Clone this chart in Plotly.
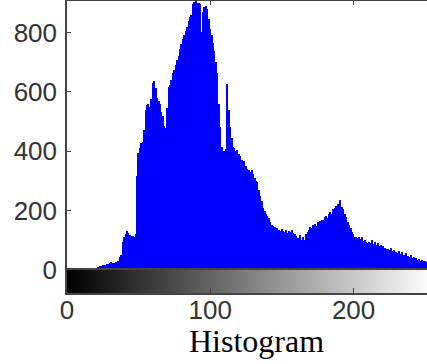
import plotly.graph_objects as go

# Histogram counts for gray levels 0..255
levels = list(range(256))
counts = [
    0, 0, 0, 0, 0, 0, 0, 0, 0, 0,
    0, 1, 1, 2, 2, 3, 4, 5, 6, 5,
    7, 8, 10, 12, 15, 16, 18, 17, 19, 21,
    24, 26, 23, 25, 28, 27, 30, 45, 52, 96,
    110, 122, 130, 126, 118, 114, 116, 112, 120, 318,
    395, 410, 428, 432, 470, 540, 557, 560, 548, 575,
    630, 638, 612, 580, 570, 560, 532, 520, 485, 478,
    545, 618, 622, 640, 665, 672, 690, 708, 722, 745,
    762, 778, 790, 805, 818, 838, 852, 860, 896, 902,
    905, 898, 900, 895, 800, 870, 885, 890, 878, 845,
    812, 790, 765, 738, 700, 665, 560, 480, 415, 390,
    400, 408, 625, 540, 480, 445, 415, 410, 400, 405,
    390, 385, 372, 360, 368, 350, 340, 336, 330, 338,
    325, 310, 300, 296, 270, 250, 232, 210, 198, 190,
    182, 175, 160, 152, 148, 145, 140, 142, 135, 130,
    138, 132, 128, 134, 125, 130, 128, 134, 126, 122,
    115, 108, 104, 118, 100, 112, 102, 120, 128, 135,
    145, 142, 150, 155, 148, 160, 158, 165, 170, 168,
    178, 182, 175, 190, 195, 188, 205, 210, 215, 222,
    218, 236, 212, 205, 190, 180, 160, 150, 140, 128,
    120, 112, 110, 108, 112, 105, 110, 98, 100, 95,
    92, 96, 90, 100, 88, 94, 85, 90, 80, 84,
    76, 82, 74, 70, 72, 68, 75, 64, 66, 60,
    62, 58, 64, 55, 60, 52, 50, 56, 48, 45,
    50, 42, 44, 38, 40, 35, 36, 32, 34, 30,
    32, 28, 30, 26, 28, 25,
]
x_ticks = [0, 100, 200]
y_ticks = [0, 200, 400, 600, 800]
caption = "Histogram"

W, H = 427, 364
L, T, B = 67, 1, 71
plot_h = H - T - B
split = (293 - 270) / plot_h
x_max = (W - L) / 1.433
y_max = 906

tick_font = dict(family="Liberation Sans, Arial, sans-serif", size=26, color="#333333")
axcol = "#444444"

fig = go.Figure()
fig.add_trace(go.Bar(
    x=levels, y=counts, width=1.0,
    marker=dict(color="#0000FF", line=dict(width=0)),
    xaxis="x", yaxis="y", showlegend=False,
))
fig.add_trace(go.Heatmap(
    x=levels, y=[0], z=[levels],
    colorscale=[[0, "black"], [1, "white"]],
    showscale=False, xaxis="x2", yaxis="y2", hoverinfo="skip",
))

fig.update_layout(
    width=W, height=H,
    margin=dict(l=L, r=0, t=T, b=B, pad=0, autoexpand=False),
    paper_bgcolor="white", plot_bgcolor="white",
    bargap=0,
    xaxis=dict(
        anchor="y", side="top", domain=[0, 1], range=[0, x_max],
        tickvals=x_ticks, showticklabels=False, ticks="inside", ticklen=4,
        tickcolor=axcol, showline=True, linecolor=axcol, linewidth=1.5,
        showgrid=False, zeroline=False, automargin=False,
    ),
    xaxis2=dict(
        anchor="y2", side="bottom", domain=[0, 1], range=[0, x_max],
        tickvals=x_ticks, ticktext=[str(v) for v in x_ticks],
        ticks="inside", ticklen=5, tickcolor=axcol, tickfont=tick_font,
        showline=True, mirror=True, linecolor=axcol, linewidth=1.5,
        showgrid=False, zeroline=False, ticklabelstandoff=-7, automargin=False,
    ),
    yaxis=dict(
        anchor="x", domain=[split, 1], range=[0, y_max],
        tickvals=y_ticks, ticktext=[str(v) for v in y_ticks],
        ticks="inside", ticklen=4, tickcolor=axcol, tickfont=tick_font,
        showline=True, linecolor=axcol, linewidth=1.5,
        showgrid=False, zeroline=False, ticklabelstandoff=3, automargin=False,
    ),
    yaxis2=dict(
        anchor="x2", domain=[0, split], range=[-0.5, 0.5],
        showticklabels=False, ticks="", showline=True, linecolor=axcol,
        linewidth=1.5, showgrid=False, zeroline=False, automargin=False,
    ),
    annotations=[dict(
        text=caption, xref="paper", yref="paper",
        x=(256.5 - L) / (W - L), y=(293 - 341) / plot_h,
        xanchor="center", yanchor="middle", showarrow=False,
        font=dict(family="Liberation Serif, Times New Roman, serif", size=32, color="black"),
    )],
)

fig.write_html(
    "out.html",
    config={"displayModeBar": False},
    post_script="document.body.style.margin='0';document.body.style.overflow='hidden';",
)
